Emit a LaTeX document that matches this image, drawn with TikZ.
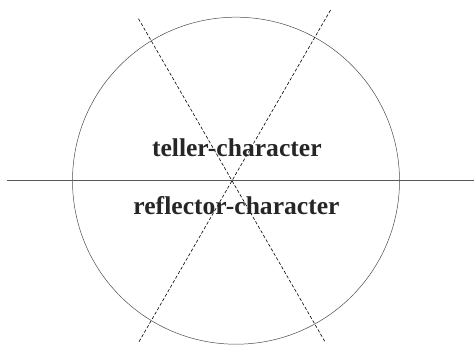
\documentclass[tikz,border=0pt]{standalone}
\usepackage{fontspec}
\setmainfont{Liberation Serif}
\usetikzlibrary{positioning, calc}

\begin{document}
\begin{tikzpicture}[x=1pt, y=1pt,
  axis/.style={draw=black!65, line width=1.3pt},
  ring/.style={draw=black!70, line width=0.5pt},
  divider/.style={draw=black, line width=0.6pt, dash pattern=on 3.2pt off 2pt},
  role/.style={font=\fontsize{25.6}{30}\selectfont\bfseries, text=black!85, anchor=base, inner sep=0pt}]
\useasboundingbox (0,0) rectangle (474,345);
\coordinate (ctr) at (236,164.3);
\coordinate (cross) at (232,164.3);
\coordinate (left) at (6.7,164.3);
\coordinate (right) at (474,164.3);
\coordinate (d1a) at ($(cross)+(120:187)$);
\coordinate (d1b) at ($(cross)+(-60:187)$);
\coordinate (d2a) at ($(cross)+(60:197)$);
\coordinate (d2b) at ($(cross)+(-120:187)$);

\draw[ring] (ctr) circle[radius=163.5];
\draw[axis] (left) -- (right);
\draw[divider] (d1a) -- (d1b);
\draw[divider] (d2a) -- (d2b);

\node[role] (teller) at (236.8,188) {teller-character};
\node[role] (reflector) at (236.5,130) {reflector-character};
\end{tikzpicture}
\end{document}
